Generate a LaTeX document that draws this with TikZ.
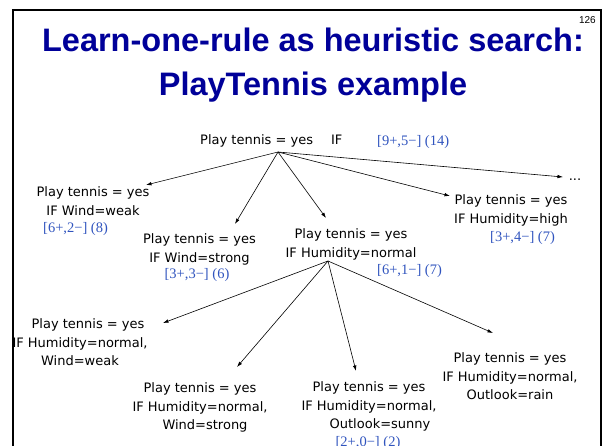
\documentclass[tikz,border=0pt]{standalone}
\usepackage{fontspec}
\setmainfont{DejaVu Sans}
\newfontfamily\titlefont{Liberation Sans}
\newfontfamily\cntfont{Liberation Serif}
\usetikzlibrary{arrows.meta}
\definecolor{titleblue}{RGB}{0,0,153}
\definecolor{countblue}{RGB}{48,84,190}

\begin{document}
\begin{tikzpicture}[x=1pt,y=-1pt,
  rule/.style={align=center,inner sep=0pt,anchor=north,
    font=\fontsize{13}{18.3}\selectfont},
  count/.style={inner sep=0pt,anchor=base,
    font=\cntfont\fontsize{14.5}{16}\selectfont,text=countblue},
  edge/.style={line width=0.6pt,-{Latex[length=5.5pt,width=3.6pt]}},
  heading/.style={inner sep=0pt,anchor=base,
    font=\titlefont\bfseries\fontsize{32.5}{38}\selectfont,text=titleblue}]
\useasboundingbox (0,0) rectangle (602,446);

% slide frame
\draw[line width=1.6pt] (11.75,10) -- (601.5,10);
\draw[line width=2.5pt] (13,9.2) -- (13,450);
\draw[line width=2pt] (600.5,9.2) -- (600.5,450);

% page number and heading
\node[inner sep=0pt,anchor=base east,font=\titlefont\fontsize{10}{12}\selectfont]
  (pageno) at (596,24) {126};
\node[heading] (title1) at (313,52) {Learn-one-rule as heuristic search:};
\node[heading] (title2) at (313,96) {PlayTennis example};

% root rule
\node[inner sep=0pt,anchor=base west,font=\fontsize{13}{18.3}\selectfont]
  (root) at (200,145) {Play tennis = yes\hspace{18pt}IF};
\node[count,anchor=base west] (rootc) at (377,145.5) {[9+,5−] (14)};

% first specialisations
\node[rule] (n1) at (93,183.7) {\strut Play tennis = yes\\IF Wind=weak};
\node[count,anchor=base west] (n1c) at (43,233) {[6+,2−] (8)};
\node[rule] (n2) at (199.5,230.7) {\strut Play tennis = yes\\IF Wind=strong};
\node[count] (n2c) at (197,279) {[3+,3−] (6)};
\node[rule] (n3) at (351,225.7) {\strut Play tennis = yes\\IF Humidity=normal};
\node[count,anchor=base west] (n3c) at (377,274) {[6+,1−] (7)};
\node[rule] (n4) at (511,191.7) {\strut Play tennis = yes\\IF Humidity=high};
\node[count,anchor=base west] (n4c) at (490,242) {[3+,4−] (7)};
\node[inner sep=0pt,anchor=base,font=\fontsize{13}{18.3}\selectfont]
  (more) at (575,181) {...};

% second specialisations
\node[rule] (m1) at (80,315.7)
  {\strut\hspace*{16pt}Play tennis = yes\\IF Humidity=normal,\\Wind=weak};
\node[rule] (m2) at (200,379.7)
  {\strut Play tennis = yes\\IF Humidity=normal,\\\hspace*{10pt}Wind=strong};
\node[rule] (m3) at (369,378.7)
  {\strut Play tennis = yes\\IF Humidity=normal,\\\hspace*{22pt}Outlook=sunny};
\node[count] (m3c) at (368,446) {[2+,0−] (2)};
\node[rule] (m4) at (510,349.7)
  {\strut Play tennis = yes\\IF Humidity=normal,\\Outlook=rain};

% branch points and arrow ends
\coordinate (rootout) at (278,152);
\coordinate (e1) at (146,185);
\coordinate (e2) at (235,224);
\coordinate (e3) at (326,218);
\coordinate (e4) at (450,196);
\coordinate (e5) at (563,177);
\coordinate (n3out) at (328,261);
\coordinate (f1) at (163,323);
\coordinate (f2) at (237,367);
\coordinate (f3) at (356,371);
\coordinate (f4) at (493,333);

\draw[edge] (rootout) -- (e1);
\draw[edge] (rootout) -- (e2);
\draw[edge] (rootout) -- (e3);
\draw[edge] (rootout) -- (e4);
\draw[edge] (rootout) -- (e5);
\draw[edge] (n3out) -- (f1);
\draw[edge] (n3out) -- (f2);
\draw[edge] (n3out) -- (f3);
\draw[edge] (n3out) -- (f4);
\end{tikzpicture}
\end{document}
